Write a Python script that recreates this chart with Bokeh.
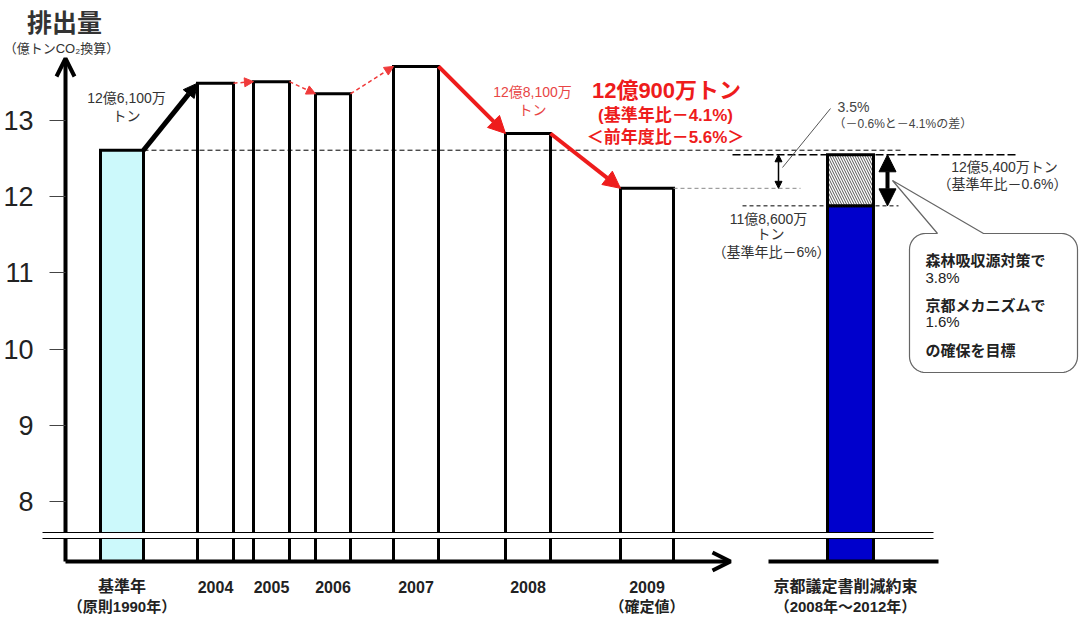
import numpy as np
from bokeh.plotting import figure
from bokeh.models import Range1d, FixedTicker, Arrow, NormalHead, OpenHead
from bokeh.core.properties import value
from bokeh.embed import file_html
from bokeh.resources import INLINE

# ---------------- data ----------------
categories = ["基準年", "2004", "2005", "2006", "2007", "2008", "2009"]
category_sublabels = ["（原則1990年）", "", "", "", "", "", "（確定値）"]
emissions = [12.61, 13.49, 13.51, 13.35, 13.71, 12.83, 12.11]   # 億トンCO2
target_label = "京都議定書削減約束"
target_sublabel = "（2008年～2012年）"
target_total = 12.55      # 12億5,400万トン（基準年比－0.6%）
target_domestic = 11.88   # 11億8,600万トン（基準年比－6%）
y_ticks = [8, 9, 10, 11, 12, 13]

# ---------------- layout (pixels) ----------------
W, H = 1080, 641
bar_left = [100, 197, 253, 315, 393, 505, 620]
bar_right = [143, 233, 289, 350, 438, 550, 673]
target_left, target_right = 827, 873
PX_PER_UNIT = 76.2
Y12_PX = 196.2


def v(py):
    """pixel row -> data value on the emission axis"""
    return 12 - (py - Y12_PX) / PX_PER_UNIT


base_v = v(561)
F = "Liberation Sans, Noto Sans CJK JP"
RED = "#ee1c1c"
DARK = "#333333"

p = figure(width=W, height=H, x_range=Range1d(0, W), y_range=Range1d(v(H), v(0)),
           output_backend="svg", toolbar_location=None, min_border=0,
           x_axis_location=None, y_axis_location="left")
p.outline_line_color = None
p.grid.visible = False
p.background_fill_color = "white"
p.border_fill_color = "white"

ax = p.yaxis[0]
ax.fixed_location = 65
ax.ticker = FixedTicker(ticks=y_ticks)
ax.axis_line_color = None
ax.major_tick_in = 0
ax.major_tick_out = 16
ax.major_tick_line_color = "#444444"
ax.major_tick_line_width = 1
ax.minor_tick_line_color = None
ax.major_label_standoff = 16
ax.major_label_text_font = "Liberation Sans"
ax.major_label_text_font_size = "27px"
ax.major_label_text_color = "#222222"

# y axis arrow (under glyphs so the break band cuts it)
p.add_layout(Arrow(end=OpenHead(size=18, line_width=4, line_color="black"),
                   x_start=65, y_start=base_v, x_end=65, y_end=v(58),
                   line_width=4, line_color="black", level="underlay"))

# bars
fills = ["#ccf9fb"] + ["white"] * (len(categories) - 1)
p.quad(left=bar_left, right=bar_right, bottom=base_v, top=emissions,
       fill_color=fills, line_color="black", line_width=3, line_join="miter")

# Kyoto target bar
p.quad(left=[target_left], right=[target_right], bottom=[base_v], top=[target_domestic],
       fill_color="#0000cc", line_color="black", line_width=3, line_join="miter")
p.quad(left=[target_left], right=[target_right], bottom=[target_domestic], top=[target_total],
       fill_color="white", hatch_pattern="\\", hatch_color="#555555", hatch_scale=5,
       hatch_weight=1, line_color="black", line_width=3, line_join="miter")

# axis break band
p.quad(left=[42], right=[933], bottom=[v(538)], top=[v(532)], fill_color="white", line_color=None)
p.segment(x0=[42, 42], x1=[933, 933], y0=[v(532), v(538)], y1=[v(532), v(538)],
          line_color="black", line_width=1.2)

# x axis arrow + target baseline
p.add_layout(Arrow(end=OpenHead(size=18, line_width=4, line_color="black"),
                   x_start=65, y_start=base_v, x_end=730, y_end=base_v,
                   line_width=4, line_color="black"))
p.segment(x0=[768], x1=[938], y0=[base_v], y1=[base_v], line_color="black", line_width=4)

# reference dashed lines
p.segment(x0=[bar_right[0]], x1=[903], y0=[emissions[0]], y1=[emissions[0]],
          line_color="black", line_width=1, line_dash="5 3")
p.segment(x0=[732], x1=[1017], y0=[target_total], y1=[target_total],
          line_color="black", line_width=1.5, line_dash="8 3")
p.segment(x0=[bar_right[6]], x1=[800], y0=[emissions[6]], y1=[emissions[6]],
          line_color="#888888", line_width=1, line_dash="4 3")
p.segment(x0=[742], x1=[898], y0=[target_domestic], y1=[target_domestic],
          line_color="black", line_width=1, line_dash="4 3")

# arrows between bars
p.add_layout(Arrow(end=NormalHead(size=14, fill_color="black", line_color="black"),
                   x_start=bar_right[0], y_start=emissions[0], x_end=bar_left[1], y_end=emissions[1],
                   line_width=5, line_color="black"))
for i in (1, 2, 3):
    p.add_layout(Arrow(end=NormalHead(size=9, fill_color="#f03a3a", line_color="#f03a3a"),
                       x_start=bar_right[i], y_start=emissions[i], x_end=bar_left[i + 1],
                       y_end=emissions[i + 1], line_width=1.5, line_color="#f03a3a", line_dash="4 3"))
for i in (4, 5):
    p.add_layout(Arrow(end=NormalHead(size=17, fill_color=RED, line_color=RED),
                       x_start=bar_right[i], y_start=emissions[i], x_end=bar_left[i + 1],
                       y_end=emissions[i + 1], line_width=4, line_color=RED))

# double arrows
p.add_layout(Arrow(start=NormalHead(size=7, fill_color="black"), end=NormalHead(size=7, fill_color="black"),
                   x_start=778, y_start=target_total, x_end=778, y_end=emissions[6],
                   line_width=1.5, line_color="black"))
p.add_layout(Arrow(start=NormalHead(size=17, fill_color="black"), end=NormalHead(size=17, fill_color="black"),
                   x_start=887, y_start=target_total, x_end=887, y_end=target_domestic,
                   line_width=4, line_color="black"))

# leader line for 3.5%
p.segment(x0=[830], x1=[782], y0=[v(108)], y1=[v(167)], line_color="#555555", line_width=1)

# callout balloon
L, T, R, B, r = 909, 233, 1077, 372, 16
tip, b1, b2 = (892, 180), 937, 983
pts = [(b2, T)]
for (cx, cy, a0, a1) in [(R - r, T + r, -90, 0), (R - r, B - r, 0, 90),
                         (L + r, B - r, 90, 180), (L + r, T + r, 180, 270)]:
    for a in np.radians(np.linspace(a0, a1, 12)):
        pts.append((cx + r * np.cos(a), cy + r * np.sin(a)))
pts += [(b1, T), tip]
p.patch([q[0] for q in pts], [v(q[1]) for q in pts], fill_color="white",
        line_color="#666666", line_width=1.2)


def txt(x, py, s, size, color=DARK, bold=False, align="center"):
    p.text(x=[x], y=[v(py)], text=[s], text_font=value(F), text_font_size=f"{size}px",
           text_font_style="bold" if bold else "normal", text_color=color,
           text_align=align, text_baseline="middle")


# titles
txt(64, 22, "排出量", 25, bold=True)
txt(61, 48, "（億トンCO₂換算）", 13)

# category labels
for i, c in enumerate(categories):
    cx = (bar_left[i] + bar_right[i]) / 2
    txt(cx, 586, c, 16, color="#222222", bold=True)
    if category_sublabels[i]:
        txt(cx, 606, category_sublabels[i], 15, color="#222222", bold=True)
tx = (target_left + target_right) / 2 - 5
txt(tx, 586, target_label, 16, color="#222222", bold=True)
txt(tx, 606, target_sublabel, 15, color="#222222", bold=True)

# value annotations
txt(126, 97, "12億6,100万", 14)
txt(126, 115, "トン", 14)
txt(532, 91, "12億8,100万", 14, color="#e84545")
txt(532, 109, "トン", 14, color="#e84545")
txt(666, 90, "12億900万トン", 22, color=RED, bold=True)
txt(665, 115, "(基準年比－4.1%)", 17, color=RED, bold=True)
txt(665, 137, "＜前年度比－5.6%＞", 17, color=RED, bold=True)
txt(837, 106, "3.5%", 14, color="#444444", align="left")
txt(833, 123, "（－0.6%と－4.1%の差）", 12, color="#444444", align="left")
txt(1004, 166, "12億5,400万トン", 14)
txt(1002, 183, "（基準年比－0.6%）", 14)
txt(768, 218, "11億8,600万", 14)
txt(770, 233, "トン", 14)
txt(771, 251, "（基準年比－6%）", 14)

# balloon text
txt(925, 260, "森林吸収源対策で", 15, color="#222222", bold=True, align="left")
txt(925, 277, "3.8%", 15, color="#222222", align="left")
txt(925, 305, "京都メカニズムで", 15, color="#222222", bold=True, align="left")
txt(925, 321, "1.6%", 15, color="#222222", align="left")
txt(925, 350, "の確保を目標", 15, color="#222222", bold=True, align="left")

open("out.html", "w").write(file_html(p, INLINE))
